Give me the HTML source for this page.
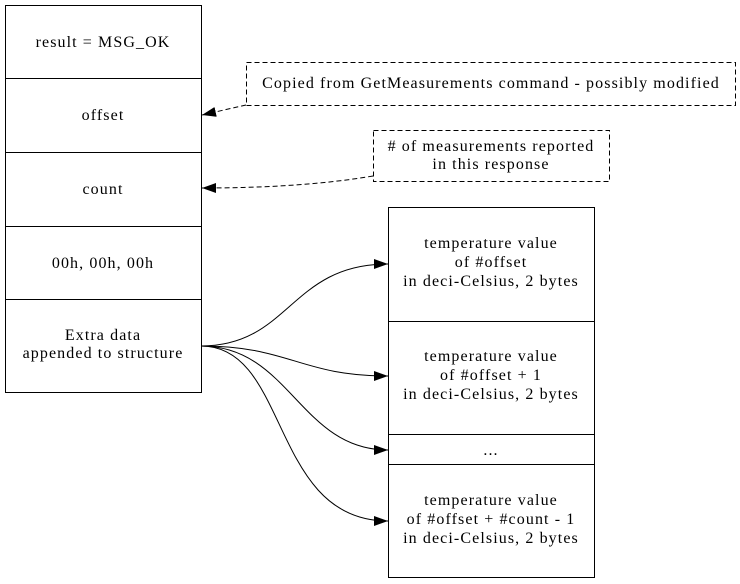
<!DOCTYPE html>
<html><head><meta charset="utf-8"><style>body{margin:0;background:#fff}svg{display:block}svg text{font-family:"Liberation Serif","Times New Roman","DejaVu Serif",serif;font-size:16px;letter-spacing:1.1px}</style></head><body>
<svg width="740" height="584" viewBox="0 0 740 584" xmlns="http://www.w3.org/2000/svg">
<defs><marker id="a" markerWidth="14" markerHeight="10" refX="14" refY="5" orient="auto" markerUnits="userSpaceOnUse"><path d="M0,0L14,5L0,10z" fill="#000"/></marker></defs>
<g fill="none" stroke="#000" stroke-width="1">
<rect x="5.5" y="5.5" width="196" height="387"/>
<path d="M5 78.5H201M5 152.5H201M5 226.5H201M5 299.5H201"/>
<rect x="388.5" y="207.5" width="206" height="370"/>
<path d="M388 321.5H594M388 434.5H594M388 464.5H594"/>
<rect x="246.5" y="62.5" width="489" height="43" stroke-dasharray="5,3"/>
<rect x="373.5" y="130.5" width="236" height="51" stroke-dasharray="5,3"/>
<path d="M246 105 L202 115" stroke-dasharray="5,3" marker-end="url(#a)"/>
<path d="M373 176 C320 185 260 188 202 188" stroke-dasharray="5,3" marker-end="url(#a)"/>
<path d="M201 346 C290 346 290 264 388 264" marker-end="url(#a)"/>
<path d="M201 346 C290 346 300 376 388 376" marker-end="url(#a)"/>
<path d="M201 346 C290 346 300 450 388 450" marker-end="url(#a)"/>
<path d="M201 346 C290 346 270 521 388 521" marker-end="url(#a)"/>
</g>
<g text-anchor="middle" fill="#000">
<text x="103" y="47">result = MSG_OK</text>
<text x="103" y="120">offset</text>
<text x="103" y="194">count</text>
<text x="103" y="268">00h, 00h, 00h</text>
<text x="103" y="340">Extra data</text>
<text x="103" y="358">appended to structure</text>
<text x="491" y="88">Copied from GetMeasurements command - possibly modified</text>
<text x="491" y="151">#  of measurements reported</text>
<text x="491" y="169">in this response</text>
<text x="491" y="248">temperature value</text>
<text x="491" y="267">of #offset</text>
<text x="491" y="286">in deci-Celsius, 2 bytes</text>
<text x="491" y="361">temperature value</text>
<text x="491" y="380">of #offset + 1</text>
<text x="491" y="399">in deci-Celsius, 2 bytes</text>
<text x="491" y="455">...</text>
<text x="491" y="505">temperature value</text>
<text x="491" y="524">of #offset + #count - 1</text>
<text x="491" y="543">in deci-Celsius, 2 bytes</text>
</g>
</svg>
</body></html>
